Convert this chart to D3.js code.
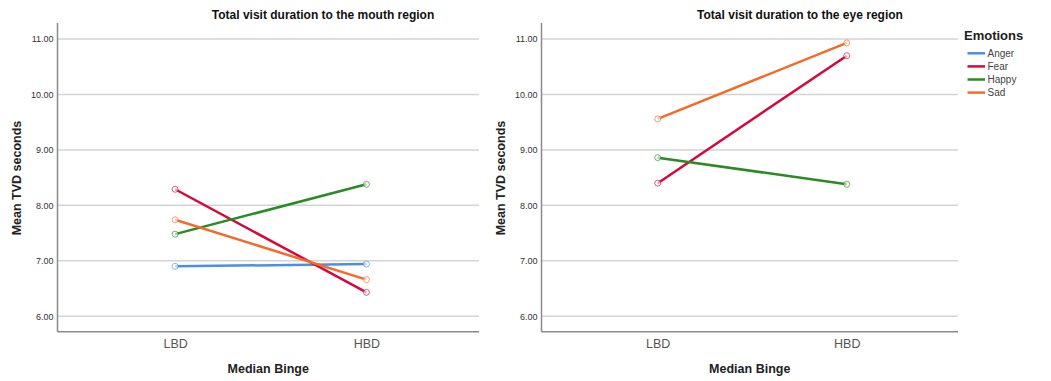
<!DOCTYPE html>
<html>
<head>
<script src="https://d3js.org/d3.v7.min.js"></script>
<style>
  body { margin: 0; padding: 0; background: #fff; }
  text { font-family: "Liberation Sans", Arial, sans-serif; }
  .grid line { stroke: #d4d4d4; stroke-width: 1.5; }
  .tick text { fill: #333; font-size: 9px; }
</style>
</head>
<body>
<script>
// data
var groups = ["LBD", "HBD"];
var emotions = ["Anger", "Fear", "Happy", "Sad"];
var colors = ["#4a90e2", "#d6083b", "#2a8a24", "#f26b2a"];
var yTicks = [6, 7, 8, 9, 10, 11];

var mouthAnger = [6.90, 6.94];
var mouthFear = [8.29, 6.43];
var mouthHappy = [7.48, 8.38];
var mouthSad = [7.74, 6.66];

var eyeAnger = [null, null];
var eyeFear = [8.40, 10.70];
var eyeHappy = [8.86, 8.38];
var eyeSad = [9.56, 10.93];

var panels = [
  { title: "Total visit duration to the mouth region", left: 57.5, right: 479, titleX: 323,
    series: [mouthAnger, mouthFear, mouthHappy, mouthSad] },
  { title: "Total visit duration to the eye region", left: 541.5, right: 958, titleX: 800,
    series: [eyeAnger, eyeFear, eyeHappy, eyeSad] }
];

var width = 1051, height = 381;
var plotTop = 23, plotBottom = 331.7;

var svg = d3.select("body").append("svg")
  .attr("width", width)
  .attr("height", height);

var y = d3.scaleLinear().domain([5.72, 11.29]).range([plotBottom, plotTop]);

panels.forEach(function(p) {
  var w = p.right - p.left;
  var x = d3.scalePoint().domain(groups)
    .range([p.left + 0.279 * w, p.left + 0.733 * w]);

  var g = svg.append("g");

  // gridlines
  g.append("g").attr("class", "grid")
    .selectAll("line").data(yTicks).enter().append("line")
    .attr("x1", p.left).attr("x2", p.right)
    .attr("y1", function(d) { return y(d); })
    .attr("y2", function(d) { return y(d); });

  // y axis
  var yAxis = d3.axisLeft(y).tickValues(yTicks).tickSize(0).tickPadding(4)
    .tickFormat(d3.format(".2f"));
  var ya = g.append("g").attr("transform", "translate(" + p.left + ",0)").call(yAxis);
  ya.select(".domain").remove();

  // axis frame
  g.append("line").attr("x1", p.left).attr("x2", p.left)
    .attr("y1", plotTop).attr("y2", plotBottom)
    .attr("stroke", "#8a8a8a").attr("stroke-width", 1.5);
  g.append("line").attr("x1", p.left).attr("x2", p.right)
    .attr("y1", plotBottom).attr("y2", plotBottom)
    .attr("stroke", "#8a8a8a").attr("stroke-width", 1.5);

  // x category labels
  var xAxis = d3.axisBottom(x).tickSize(0).tickPadding(7);
  var xa = g.append("g").attr("transform", "translate(0," + plotBottom + ")").call(xAxis);
  xa.select(".domain").remove();
  xa.selectAll("text").style("font-size", "12.5px").style("fill", "#555");

  // lines
  var line = d3.line()
    .defined(function(d) { return d != null; })
    .x(function(d, i) { return x(groups[i]); })
    .y(function(d) { return y(d); });

  p.series.forEach(function(vals, k) {
    g.append("path").datum(vals)
      .attr("d", line)
      .attr("fill", "none")
      .attr("stroke", colors[k])
      .attr("stroke-width", 2.5);
    g.selectAll(".pt" + k).data(vals.filter(function(v) { return v != null; }))
      .enter().append("circle")
      .attr("cx", function(d, i) { return x(groups[i]); })
      .attr("cy", function(d) { return y(d); })
      .attr("r", 3)
      .attr("fill", "#fff")
      .attr("fill-opacity", 0.6)
      .attr("stroke", colors[k])
      .attr("stroke-opacity", 0.65)
      .attr("stroke-width", 1);
  });

  // title
  g.append("text")
    .attr("x", p.titleX).attr("y", 19)
    .attr("text-anchor", "middle")
    .style("font-weight", "bold").style("font-size", "12px").style("fill", "#111")
    .text(p.title);

  // x label
  g.append("text")
    .attr("x", (p.left + p.right) / 2).attr("y", 373)
    .attr("text-anchor", "middle")
    .style("font-weight", "bold").style("font-size", "12.5px").style("fill", "#222")
    .text("Median Binge");

  // y label
  g.append("text")
    .attr("transform", "translate(" + (p.left - 37) + "," + 178 + ")rotate(-90)")
    .attr("text-anchor", "middle")
    .style("font-weight", "bold").style("font-size", "12.5px").style("fill", "#222")
    .text("Mean TVD seconds");
});

// legend
var lg = svg.append("g").attr("transform", "translate(964,0)");
lg.append("text").attr("x", 0).attr("y", 40)
  .style("font-weight", "bold").style("font-size", "13px").style("fill", "#222")
  .text("Emotions");
var item = lg.selectAll(".item").data(emotions).enter().append("g")
  .attr("transform", function(d, i) { return "translate(0," + (53.3 + i * 13.1) + ")"; });
item.append("line").attr("x1", 3.5).attr("x2", 21)
  .attr("stroke", function(d, i) { return colors[i]; })
  .attr("stroke-width", 2.5);
item.append("text").attr("x", 23.5).attr("y", 3.5)
  .style("font-size", "10px").style("fill", "#444")
  .text(function(d) { return d; });
</script>
</body>
</html>
